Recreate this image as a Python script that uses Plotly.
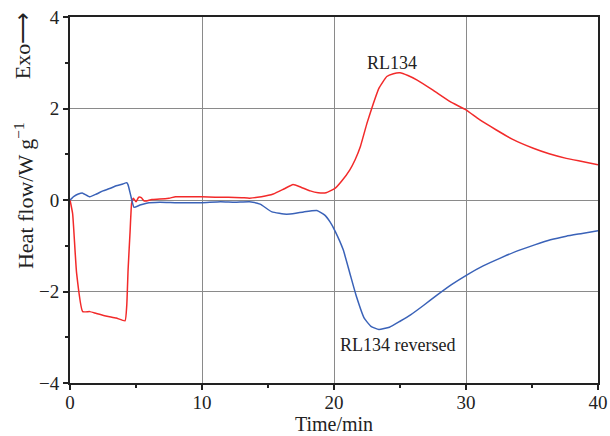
import plotly.graph_objects as go

# RL134 (red)
t_red = [0, 0.2, 0.5, 0.96, 1.5, 2.0, 2.8, 3.5, 4.17, 4.3, 4.4, 4.55, 4.67, 4.8, 5.0, 5.2, 5.4, 5.6, 5.8, 6.2, 6.8, 7.5, 8.0, 9, 10, 11, 12, 13, 13.6,
         14.5, 15.4, 16.2, 16.9, 17.5, 18.2, 18.8, 19.4, 20.1, 20.6, 21.2, 21.6, 22.0, 22.5, 22.9, 23.4, 24.0, 24.5, 25.0, 25.6, 26.3, 27.5, 28.8,
         30.0, 31.0, 32.3, 33.5, 35.1, 36.3, 37.6, 38.8, 40.0]
y_red = [0, -0.3, -1.6, -2.44, -2.44, -2.48, -2.54, -2.58, -2.64, -2.3, -1.53, -0.7, -0.07, 0.04, -0.04, 0.06, 0.05, -0.02, -0.02, 0.01, 0.02, 0.04, 0.07, 0.07, 0.07, 0.06, 0.06, 0.05, 0.04,
         0.07, 0.13, 0.24, 0.34, 0.28, 0.2, 0.16, 0.16, 0.26, 0.42, 0.66, 0.88, 1.17, 1.68, 2.04, 2.44, 2.70, 2.76, 2.78, 2.72, 2.62, 2.40, 2.15,
         1.97, 1.76, 1.53, 1.33, 1.13, 1.01, 0.91, 0.84, 0.77]

# RL134 reversed (blue)
t_blue = [0, 0.3, 0.63, 0.96, 1.5, 2.0, 2.5, 3.0, 3.5, 4.0, 4.3, 4.4, 4.6, 4.85, 5.3, 5.8, 6.8, 8, 9, 10, 11.4, 12.5, 13.6,
          14.4, 15.3, 16.4, 17.1, 17.7, 18.7, 19.3, 19.7, 20.1, 20.7, 21.2, 21.7, 22.3, 22.8, 23.4, 24.2, 25.0, 25.8, 26.8, 27.8, 28.9,
          30.05, 31.3, 32.6, 34.0, 35.2, 36.4, 37.6, 38.8, 40.0]
y_blue = [0, 0.08, 0.13, 0.15, 0.07, 0.13, 0.2, 0.25, 0.31, 0.35, 0.38, 0.33, 0.1, -0.16, -0.11, -0.07, -0.05, -0.06, -0.06, -0.06, -0.04, -0.05, -0.04,
          -0.09, -0.26, -0.31, -0.29, -0.26, -0.23, -0.33, -0.48, -0.69, -1.09, -1.60, -2.11, -2.59, -2.76, -2.83, -2.78, -2.65, -2.51, -2.30, -2.08, -1.85,
          -1.64, -1.44, -1.27, -1.10, -0.98, -0.87, -0.79, -0.73, -0.67]

x_ticks = [0, 10, 20, 30, 40]
y_ticks = [-4, -2, 0, 2, 4]
y_tick_text = ["\u22124", "\u22122", "0", "2", "4"]

FONT = "Liberation Serif"
TXT = "#222"

fig = go.Figure()
fig.add_trace(go.Scatter(x=t_red, y=y_red, mode="lines", line=dict(color="#f22a2a", width=1.5, shape="spline", smoothing=0.4), name="RL134"))
fig.add_trace(go.Scatter(x=t_blue, y=y_blue, mode="lines", line=dict(color="#3a62b8", width=1.5, shape="spline", smoothing=0.4), name="RL134 reversed"))

fig.add_annotation(x=24.4, y=3.0, text="RL134", showarrow=False, font=dict(family=FONT, size=18, color=TXT))
fig.add_annotation(x=24.8, y=-3.17, text="RL134 reversed", showarrow=False, font=dict(family=FONT, size=18, color=TXT))

fig.add_annotation(xref="paper", yref="paper", x=-0.087, y=0.511, text="Heat flow/W g<sup>\u22121</sup>",
                   textangle=-90, showarrow=False, font=dict(family=FONT, size=22, color=TXT), xanchor="center", yanchor="middle")
fig.add_annotation(xref="paper", yref="paper", x=-0.091, y=0.923, text="Exo\u27f6",
                   textangle=-90, showarrow=False, font=dict(family=FONT, size=22, color=TXT), xanchor="center", yanchor="middle")

axis_common = dict(showline=True, linecolor=TXT, linewidth=2, mirror=True, automargin=False,
                   gridcolor="#8a8a8a", gridwidth=1, zeroline=False,
                   ticks="outside", ticklen=5, tickcolor=TXT, tickwidth=1.5, ticklabeloverflow="allow",
                   tickfont=dict(family=FONT, size=19, color=TXT))

fig.update_xaxes(range=[0, 40], tickvals=x_ticks, ticklabelstandoff=-4,
                 title=dict(text="Time/min", font=dict(family=FONT, size=20, color=TXT), standoff=0),
                 minor=dict(dtick=5, ticks="outside", ticklen=3, tickcolor=TXT, showgrid=False), **axis_common)
fig.update_yaxes(range=[-4, 4], tickvals=y_ticks, ticktext=y_tick_text,
                 minor=dict(dtick=1, ticks="outside", ticklen=3, tickcolor=TXT, showgrid=False), **axis_common)

fig.update_layout(width=610, height=436, margin=dict(l=70, r=12, t=17, b=53),
                  plot_bgcolor="white", paper_bgcolor="white", showlegend=False)

fig.write_html("out.html", config={"displayModeBar": False},
               post_script="document.body.style.margin='0';document.body.style.overflow='hidden';"
                           "document.documentElement.style.overflow='hidden';")
